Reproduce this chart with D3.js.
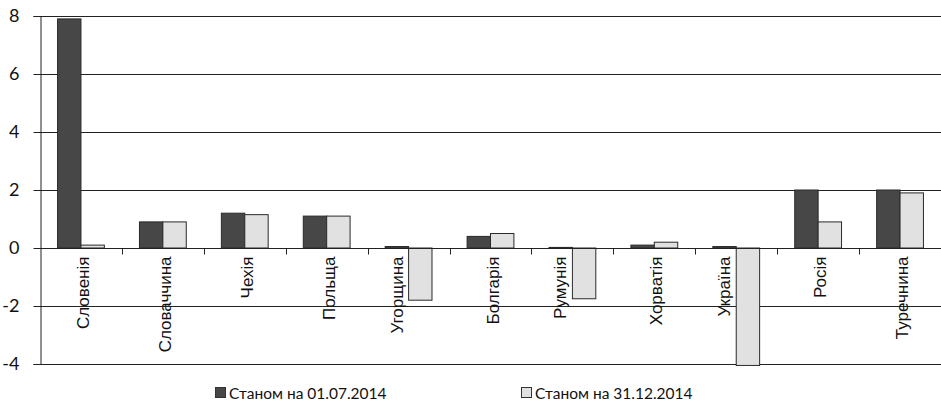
<!DOCTYPE html>
<html>
<head>
<meta charset="utf-8">
<script src="https://cdn.jsdelivr.net/npm/d3@7/dist/d3.min.js"></script>
<style>
  html, body { margin: 0; padding: 0; background: #fff; }
  svg { display: block; }
  text { font-family: Lato, "Open Sans", sans-serif; fill: #111; }
  .cat { font-family: "Liberation Sans", Arial, sans-serif; }
</style>
</head>
<body>
<svg id="chart" width="941" height="402"></svg>
<script>
// Countries along the x axis
const categories = ["Словенія", "Словаччина", "Чехія", "Польща", "Угорщина", "Болгарія",
                    "Румунія", "Хорватія", "Україна", "Росія", "Туречнина"];
// Values at the two reporting dates
const seriesJul = [7.9, 0.9, 1.2, 1.1, 0.05, 0.4, 0.02, 0.1, 0.05, 2.0, 2.0];
const seriesDec = [0.1, 0.9, 1.15, 1.1, -1.8, 0.5, -1.75, 0.2, -4.05, 0.9, 1.9];
const seriesNames = ["Станом на 01.07.2014", "Станом на 31.12.2014"];
const yTicks = [-4, -2, 0, 2, 4, 6, 8];

const fills = ["#474747", "#e1e1e1"];
const strokes = ["#2a2a2a", "#2a2a2a"];

const svg = d3.select("#chart");
const plotLeft = 40, plotRight = 941, plotTop = 16, plotBottom = 364;

const x = d3.scaleBand().domain(categories).range([plotLeft, plotRight]).paddingInner(0).paddingOuter(0);
const y = d3.scaleLinear().domain([-4, 8]).range([plotBottom, plotTop]);
const inner = d3.scaleBand().domain([0, 1]).range([0, x.bandwidth()]).paddingInner(0).paddingOuter(0.75);

// horizontal gridlines
svg.append("g").selectAll("line").data(yTicks).join("line")
  .attr("x1", plotLeft).attr("x2", plotRight)
  .attr("y1", d => Math.round(y(d)) + 0.5).attr("y2", d => Math.round(y(d)) + 0.5)
  .attr("stroke", "#222").attr("stroke-width", 1);

// bars
const series = [seriesJul, seriesDec];
series.forEach((vals, si) => {
  svg.append("g").selectAll("rect").data(vals).join("rect")
    .attr("x", (d, i) => x(categories[i]) + inner(si))
    .attr("width", inner.bandwidth())
    .attr("y", d => y(Math.max(0, d)))
    .attr("height", d => Math.abs(y(d) - y(0)))
    .attr("fill", fills[si])
    .attr("stroke", strokes[si]).attr("stroke-width", 1);
});

// y axis
const yAxis = d3.axisLeft(y).tickValues(yTicks).tickSize(7).tickPadding(14).tickFormat(d => String(d));
const gy = svg.append("g").attr("transform", `translate(${plotLeft + 0.5},0)`).call(yAxis);
gy.select(".domain").attr("stroke", "#222");
gy.selectAll(".tick line").attr("stroke", "#222");
gy.selectAll(".tick text").attr("font-size", 18).attr("fill", "#111")
  .style("font-family", "Lato, 'Open Sans', sans-serif");

// zero axis with category boundary ticks
const y0 = Math.round(y(0)) + 0.5;
svg.append("line").attr("x1", plotLeft).attr("x2", plotRight).attr("y1", y0).attr("y2", y0)
  .attr("stroke", "#222");
svg.append("g").selectAll("line").data(categories.slice(1)).join("line")
  .attr("x1", d => Math.round(x(d)) + 0.5).attr("x2", d => Math.round(x(d)) + 0.5)
  .attr("y1", y0).attr("y2", y0 + 6).attr("stroke", "#222");

// rotated category labels; where the second bar hangs below zero the label
// sits to the left of it
svg.append("g").selectAll("text").data(categories).join("text")
  .attr("class", "cat")
  .attr("transform", (d, i) => {
    const cx = seriesDec[i] < 0 ? x(d) + inner(1) - 6 : x(d) + x.bandwidth() / 2 + 8;
    return `translate(${cx},${y0 + 8}) rotate(-90)`;
  })
  .attr("text-anchor", "end")
  .attr("font-size", 17)
  .text(d => d);

// legend
const legendX = [215, 521];
seriesNames.forEach((name, i) => {
  const g = svg.append("g").attr("transform", `translate(${legendX[i]},387)`);
  g.append("rect").attr("x", 0.5).attr("y", 0.5).attr("width", 10).attr("height", 10)
    .attr("fill", fills[i]).attr("stroke", "#333");
  g.append("text").attr("x", 14).attr("y", 11.5).attr("font-size", 15.5).text(name);
});
</script>
</body>
</html>
